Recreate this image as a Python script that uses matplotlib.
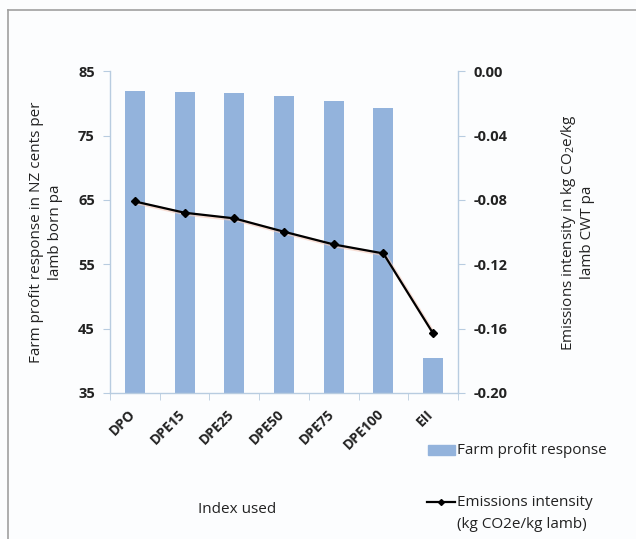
import numpy as np
import matplotlib
matplotlib.use('Agg')
import matplotlib.pyplot as plt
from matplotlib.lines import Line2D
from matplotlib.patches import Rectangle

plt.rcParams['font.family'] = ['Open Sans', 'DejaVu Sans']
plt.rcParams['mathtext.fontset'] = 'custom'
plt.rcParams['mathtext.rm'] = 'Open Sans'
plt.rcParams['mathtext.it'] = 'Open Sans'

# Data
categories = ['DPO', 'DPE15', 'DPE25', 'DPE50', 'DPE75', 'DPE100', 'EII']
profit = [81.9, 81.7, 81.6, 81.1, 80.3, 79.3, 40.4]
emissions = [-0.081, -0.088, -0.0915, -0.0998, -0.1077, -0.1133, -0.163]

bar_color = '#93b3dc'
axis_color = '#b8cce0'
text_color = '#222222'

fig = plt.figure(figsize=(6.36, 5.39), dpi=100, facecolor='#fcfdfe')
ax = fig.add_axes([0.173, 0.271, 0.547, 0.597])
ax.set_facecolor('none')

x = np.arange(len(categories))
ax.bar(x, profit, width=0.4, color=bar_color, zorder=1)
ax.set_xlim(-0.5, len(categories) - 0.5)
ax.set_ylim(35, 85)
ax.set_yticks([35, 45, 55, 65, 75, 85])

ax2 = ax.twinx()
ax2.set_ylim(-0.20, 0.0)
right_ticks = [-0.20, -0.16, -0.12, -0.08, -0.04, 0.00]
ax2.set_yticks(right_ticks)
ax2.set_yticklabels(['%.2f' % v for v in right_ticks])
# faint orange glow under the line, like the scanned original
ax2.plot(x + 0.03, np.array(emissions) - 0.0008, color='#f4c9b8', lw=2.5, alpha=0.6, zorder=2)
ax2.plot(x, emissions, color='black', lw=1.6, marker='D', markersize=4, zorder=3)

for a in (ax, ax2):
    for side in ('top', 'right', 'left', 'bottom'):
        a.spines[side].set_visible(False)
ax.spines['left'].set_visible(True)
ax.spines['bottom'].set_visible(True)
ax2.spines['right'].set_visible(True)
for s in (ax.spines['left'], ax.spines['bottom'], ax2.spines['right']):
    s.set_color(axis_color)
    s.set_linewidth(1.0)

# invisible major ticks carry the rotated labels, nudged a little left like Excel
ax.set_xticks(x - 0.14)
ax.set_xticklabels(categories, rotation=45, ha='right', va='top',
                   rotation_mode='anchor', fontweight='bold', fontsize=10, color=text_color)
ax.set_xticks(np.arange(-0.5, len(categories)), minor=True)
ax.tick_params(axis='x', which='major', length=0, pad=10)
ax.tick_params(axis='x', which='minor', length=5, color=axis_color, direction='out')
ax.tick_params(axis='y', length=5, color=axis_color, direction='out', labelsize=10.5,
               labelcolor=text_color, pad=6)
ax2.tick_params(axis='y', length=5, color=axis_color, direction='out', labelsize=10.5,
                labelcolor=text_color, pad=6)
for lab in ax.get_yticklabels() + ax2.get_yticklabels():
    lab.set_fontweight('bold')

ax.set_ylabel('Farm profit response in NZ cents per\nlamb born pa', fontsize=11,
              color=text_color, labelpad=11, linespacing=1.3)
ax2.set_ylabel('Emissions intensity in kg CO$_2$e/kg\nlamb CWT pa', fontsize=11,
               color=text_color, labelpad=37, linespacing=1.25)

fig.text(0.373, 0.054, 'Index used', fontsize=11, color=text_color, ha='center', va='center')

# legend drawn by hand (handle of the line sits at the first text line)
fig.add_artist(Rectangle((428 / 636, 1 - 455 / 539), 27 / 636, 10 / 539,
                         transform=fig.transFigure, color=bar_color))
fig.text(457 / 636, 1 - 450 / 539, 'Farm profit response', fontsize=11,
         color=text_color, va='center', ha='left')
fig.add_artist(Line2D([427 / 636, 455 / 636], [1 - 502 / 539, 1 - 502 / 539],
                      transform=fig.transFigure, color='black', lw=1.6))
fig.add_artist(Line2D([441 / 636], [1 - 502 / 539], transform=fig.transFigure,
                      color='black', marker='D', markersize=3, lw=0))
fig.text(457 / 636, 1 - 502 / 539, 'Emissions intensity', fontsize=11,
         color=text_color, va='center', ha='left')
fig.text(457 / 636, 1 - 524 / 539, '(kg CO2e/kg lamb)', fontsize=11,
         color=text_color, va='center', ha='left')

# frame lines at top and left of the picture
fig.add_artist(Line2D([0.012, 1.0], [0.982, 0.982], color='#a0a0a0', lw=1.2))
fig.add_artist(Line2D([0.012, 0.012], [0.0, 0.982], color='#a0a0a0', lw=1.2))

fig.savefig('out.png', dpi=100, facecolor=fig.get_facecolor())
